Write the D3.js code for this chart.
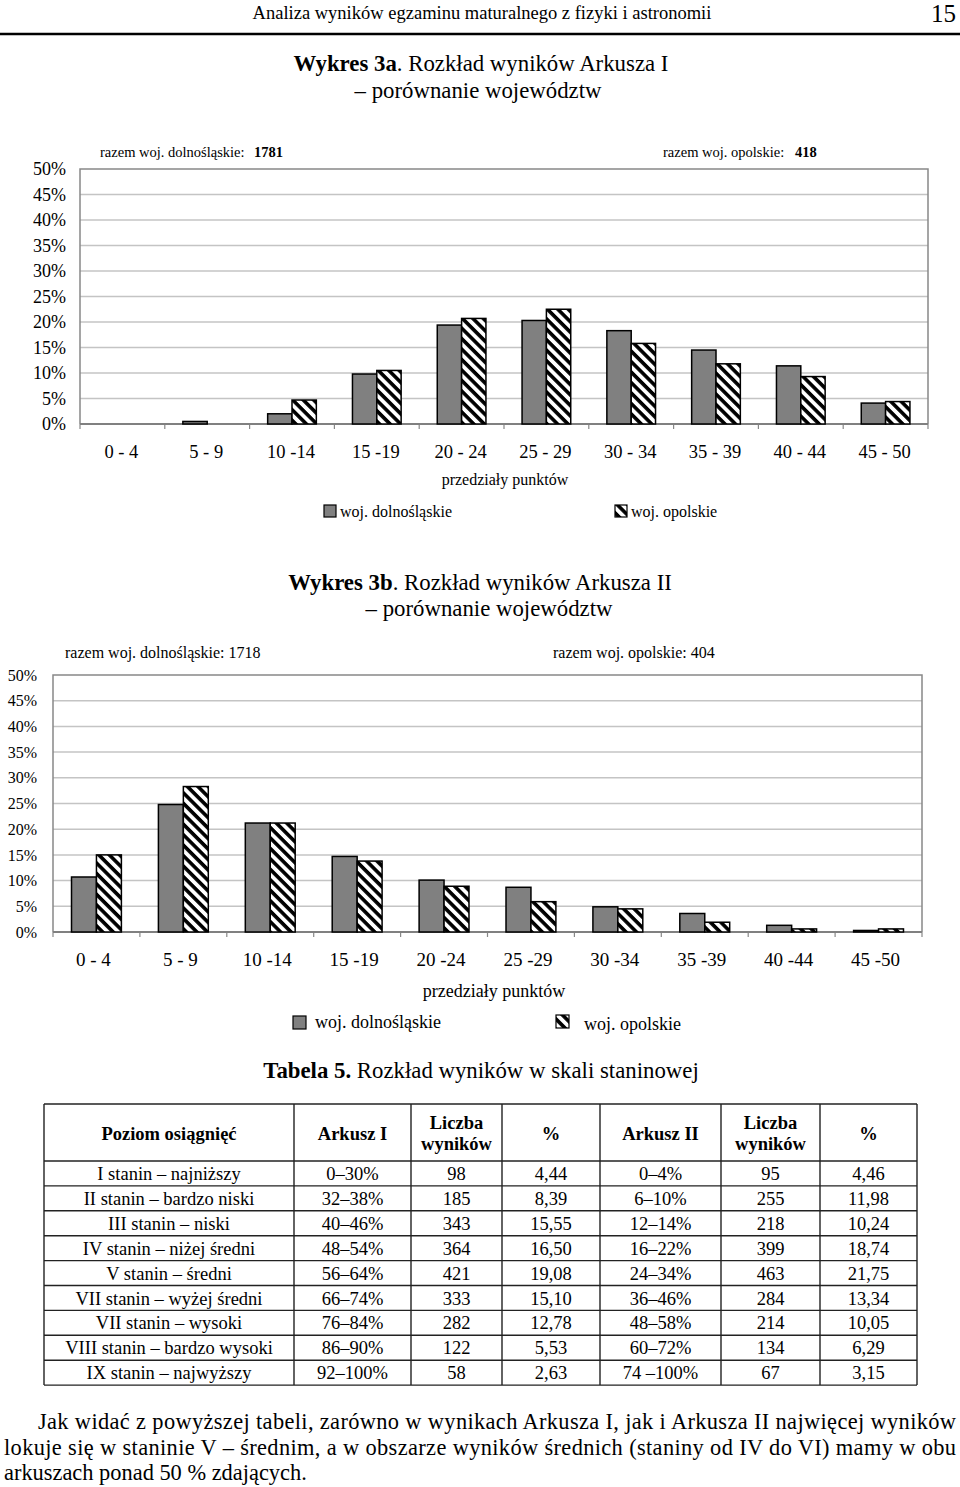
<!DOCTYPE html>
<html>
<head>
<meta charset="utf-8">
<script src="https://cdn.jsdelivr.net/npm/d3@7"></script>
<style>
  body { margin: 0; background: #fff; }
  svg { display: block; }
  text { font-family: "Liberation Serif", "Times New Roman", serif; fill: #000; }
</style>
</head>
<body>
<svg id="page"></svg>
<script>
// --------- dane ----------
const categories1 = ["0 - 4", "5 - 9", "10 -14", "15 -19", "20 - 24", "25 - 29", "30 - 34", "35 - 39", "40 - 44", "45 - 50"];
const dolnoslaskie1 = [0, 0.5, 2.0, 9.8, 19.4, 20.3, 18.3, 14.5, 11.4, 4.1];
const opolskie1 = [0, 0, 4.7, 10.5, 20.7, 22.5, 15.8, 11.8, 9.3, 4.4];

const categories2 = ["0 - 4", "5 - 9", "10 -14", "15 -19", "20 -24", "25 -29", "30 -34", "35 -39", "40 -44", "45 -50"];
const dolnoslaskie2 = [10.7, 24.8, 21.2, 14.7, 10.1, 8.7, 4.9, 3.6, 1.3, 0.3];
const opolskie2 = [15.0, 28.3, 21.2, 13.8, 8.9, 5.9, 4.5, 1.9, 0.6, 0.6];

const yTicks = [0, 5, 10, 15, 20, 25, 30, 35, 40, 45, 50];

const tableHeader = ["Poziom osiągnięć", "Arkusz I", "Liczba|wyników", "%", "Arkusz II", "Liczba|wyników", "%"];
const stanins = ["I stanin – najniższy", "II stanin – bardzo niski", "III stanin – niski", "IV stanin – niżej średni",
  "V stanin – średni", "VII stanin – wyżej średni", "VII stanin – wysoki", "VIII stanin – bardzo wysoki", "IX stanin – najwyższy"];
const arkusz1Ranges = ["0–30%", "32–38%", "40–46%", "48–54%", "56–64%", "66–74%", "76–84%", "86–90%", "92–100%"];
const arkusz1Counts = ["98", "185", "343", "364", "421", "333", "282", "122", "58"];
const arkusz1Pct = ["4,44", "8,39", "15,55", "16,50", "19,08", "15,10", "12,78", "5,53", "2,63"];
const arkusz2Ranges = ["0–4%", "6–10%", "12–14%", "16–22%", "24–34%", "36–46%", "48–58%", "60–72%", "74 –100%"];
const arkusz2Counts = ["95", "255", "218", "399", "463", "284", "214", "134", "67"];
const arkusz2Pct = ["4,46", "11,98", "10,24", "18,74", "21,75", "13,34", "10,05", "6,29", "3,15"];

// --------- strona ----------
const W = 960, H = 1487;
const svg = d3.select("#page").attr("width", W).attr("height", H);

const defs = svg.append("defs");
const pat = defs.append("pattern")
  .attr("id", "hatch")
  .attr("patternUnits", "userSpaceOnUse")
  .attr("width", 7.4).attr("height", 7.4)
  .attr("patternTransform", "rotate(45)");
pat.append("rect").attr("width", 7.4).attr("height", 7.4).attr("fill", "#fff");
pat.append("rect").attr("width", 7.4).attr("height", 3.6).attr("fill", "#000");

// naglowek strony
svg.append("text").attr("x", 482).attr("y", 19).attr("text-anchor", "middle")
  .attr("font-size", 18.5).text("Analiza wyników egzaminu maturalnego z fizyki i astronomii");
svg.append("text").attr("x", 956).attr("y", 22).attr("text-anchor", "end")
  .attr("font-size", 25).text("15");
svg.append("line").attr("x1", 0).attr("x2", W).attr("y1", 34).attr("y2", 34)
  .attr("stroke", "#000").attr("stroke-width", 2.5);

function title(x, y, bold, rest, fs) {
  const t = svg.append("text").attr("x", x).attr("y", y).attr("text-anchor", "middle").attr("font-size", fs);
  t.append("tspan").attr("font-weight", "bold").text(bold);
  t.append("tspan").text(rest);
}

function line(x, y, txt, fs, anchor) {
  return svg.append("text").attr("x", x).attr("y", y).attr("text-anchor", anchor || "middle")
    .attr("font-size", fs).text(txt);
}

title(481, 71, "Wykres 3a", ". Rozkład wyników Arkusza I", 22.8);
line(478, 98, "– porównanie województw", 22.8);

// --------- wykres ----------
function drawChart(cfg) {
  const g = svg.append("g");
  const x = d3.scaleBand().domain(cfg.categories).range([cfg.left, cfg.right]);
  const y = d3.scaleLinear().domain([0, 50]).range([cfg.bottom, cfg.top]);

  // siatka
  g.selectAll(".grid")
    .data(yTicks.slice(1, -1))
    .join("line")
    .attr("x1", cfg.left).attr("x2", cfg.right)
    .attr("y1", d => y(d)).attr("y2", d => y(d))
    .attr("stroke", "#c4c4c4").attr("stroke-width", 1.5);

  // ramka
  g.append("path")
    .attr("d", `M${cfg.left},${cfg.bottom}V${cfg.top}H${cfg.right}V${cfg.bottom}`)
    .attr("fill", "none").attr("stroke", "#888").attr("stroke-width", 1.5);

  // os Y
  const yAxis = g.append("g")
    .attr("transform", `translate(${cfg.left},0)`)
    .call(d3.axisLeft(y).tickValues(yTicks).tickFormat(d => d + "%").tickSize(0).tickPadding(cfg.left - cfg.yLabelX));
  yAxis.select(".domain").remove();
  yAxis.selectAll("text")
    .attr("font-family", "Liberation Serif, serif")
    .attr("font-size", cfg.yFont).attr("fill", "#000");

  // os X
  const bounds = cfg.categories.map(c => x(c)).concat([cfg.right]);
  g.selectAll(".xtick").data(bounds).join("line")
    .attr("x1", d => d).attr("x2", d => d)
    .attr("y1", cfg.bottom).attr("y2", cfg.bottom + 5)
    .attr("stroke", "#888").attr("stroke-width", 1.2);
  g.append("line").attr("x1", cfg.left).attr("x2", cfg.right)
    .attr("y1", cfg.bottom).attr("y2", cfg.bottom)
    .attr("stroke", "#808080").attr("stroke-width", 2);

  g.selectAll(".xlab").data(cfg.categories).join("text")
    .attr("x", d => x(d) + x.bandwidth() / 2 + cfg.xLabelShift)
    .attr("y", cfg.xLabelY)
    .attr("text-anchor", "middle")
    .attr("font-size", cfg.xFont)
    .text(d => d);

  // slupki
  const bw = x.bandwidth() * 0.287;
  const series = [
    { values: cfg.a, fill: "#808080", off: -bw },
    { values: cfg.b, fill: "url(#hatch)", off: 0 }
  ];
  series.forEach(s => {
    g.selectAll(null)
      .data(cfg.categories.map((c, i) => ({ c, v: s.values[i] })).filter(d => d.v > 0))
      .join("rect")
      .attr("x", d => x(d.c) + x.bandwidth() / 2 + s.off)
      .attr("y", d => y(d.v))
      .attr("width", bw)
      .attr("height", d => cfg.bottom - y(d.v))
      .attr("fill", s.fill)
      .attr("stroke", "#000").attr("stroke-width", 1.5);
  });

  // opis osi
  line(cfg.axisTitleX, cfg.axisTitleY, "przedziały punktów", cfg.axisTitleFont);

  // legenda
  cfg.legend.forEach((l, i) => {
    svg.append("rect").attr("x", l.sx).attr("y", l.sy).attr("width", l.size).attr("height", l.size)
      .attr("fill", i === 0 ? "#808080" : "url(#hatch)")
      .attr("stroke", "#000").attr("stroke-width", 1.2);
    line(l.tx, l.ty, l.text, cfg.legendFont, "start");
  });
}

// Wykres 3a
{
  const t1 = svg.append("text").attr("x", 100).attr("y", 157).attr("font-size", 14.5);
  t1.append("tspan").text("razem woj. dolnośląskie:");
  t1.append("tspan").attr("x", 254).attr("font-weight", "bold").text("1781");
  const t2 = svg.append("text").attr("x", 663).attr("y", 157).attr("font-size", 14.5);
  t2.append("tspan").text("razem woj. opolskie:");
  t2.append("tspan").attr("x", 795).attr("font-weight", "bold").text("418");
}
drawChart({
  categories: categories1, a: dolnoslaskie1, b: opolskie1,
  left: 80, right: 928, top: 169, bottom: 424,
  yLabelX: 66, yFont: 18,
  xLabelY: 458, xFont: 18.5, xLabelShift: -1,
  axisTitleX: 505, axisTitleY: 485, axisTitleFont: 16,
  legendFont: 16,
  legend: [
    { sx: 324, sy: 505, size: 12, tx: 340, ty: 517, text: "woj. dolnośląskie" },
    { sx: 615, sy: 505, size: 12, tx: 631, ty: 517, text: "woj. opolskie" }
  ]
});

// Wykres 3b
title(480, 590, "Wykres 3b", ". Rozkład wyników Arkusza II", 22.8);
line(489, 616, "– porównanie województw", 22.8);

line(65, 658, "razem woj. dolnośląskie: 1718", 16, "start");
line(553, 658, "razem woj. opolskie: 404", 16, "start");

drawChart({
  categories: categories2, a: dolnoslaskie2, b: opolskie2,
  left: 53, right: 922, top: 675, bottom: 932,
  yLabelX: 37, yFont: 16,
  xLabelY: 966, xFont: 19, xLabelShift: -3,
  axisTitleX: 494, axisTitleY: 997, axisTitleFont: 18,
  legendFont: 18,
  legend: [
    { sx: 293, sy: 1016, size: 13, tx: 315, ty: 1028, text: "woj. dolnośląskie" },
    { sx: 556, sy: 1015, size: 13, tx: 584, ty: 1030, text: "woj. opolskie" }
  ]
});

// --------- tabela ----------
title(481, 1078, "Tabela 5.", " Rozkład wyników w skali staninowej", 22.8);

const colX = [44, 294, 411, 502, 600, 721, 820, 917];
const headTop = 1104, headBottom = 1161, rowH = 24.9;
const rowsY = d3.range(stanins.length + 1).map(i => headBottom + i * rowH);
const tg = svg.append("g");

const rows = stanins.map((s, i) => [s, arkusz1Ranges[i], arkusz1Counts[i], arkusz1Pct[i], arkusz2Ranges[i], arkusz2Counts[i], arkusz2Pct[i]]);

tg.selectAll(".hrow").data([headTop].concat(rowsY)).join("line")
  .attr("x1", colX[0]).attr("x2", colX[colX.length - 1])
  .attr("y1", d => d).attr("y2", d => d)
  .attr("stroke", "#222").attr("stroke-width", 1.4);
tg.selectAll(".vcol").data(colX).join("line")
  .attr("x1", d => d).attr("x2", d => d)
  .attr("y1", headTop).attr("y2", rowsY[rowsY.length - 1])
  .attr("stroke", "#222").attr("stroke-width", 1.4);

tableHeader.forEach((h, j) => {
  const cx = (colX[j] + colX[j + 1]) / 2;
  const parts = h.split("|");
  parts.forEach((p, k) => {
    const yy = parts.length === 1 ? 1140 : 1129 + k * 21;
    tg.append("text").attr("x", cx).attr("y", yy).attr("text-anchor", "middle")
      .attr("font-size", 18.5).attr("font-weight", "bold").text(p);
  });
});

rows.forEach((r, i) => {
  r.forEach((v, j) => {
    tg.append("text")
      .attr("x", (colX[j] + colX[j + 1]) / 2)
      .attr("y", rowsY[i] + 19)
      .attr("text-anchor", "middle")
      .attr("font-size", 18.5)
      .text(v);
  });
});

// --------- akapit ----------
line(38, 1429, "Jak widać z powyższej tabeli, zarówno w wynikach Arkusza I, jak i Arkusza II najwięcej wyników", 22.4, "start")
  .attr("textLength", 918).attr("lengthAdjust", "spacing");
line(4, 1455, "lokuje się w staninie V – średnim, a w obszarze wyników średnich (staniny od IV do VI) mamy w obu", 22.4, "start")
  .attr("textLength", 952).attr("lengthAdjust", "spacing");
line(4, 1480, "arkuszach ponad 50 % zdających.", 22.4, "start");
</script>
</body>
</html>
